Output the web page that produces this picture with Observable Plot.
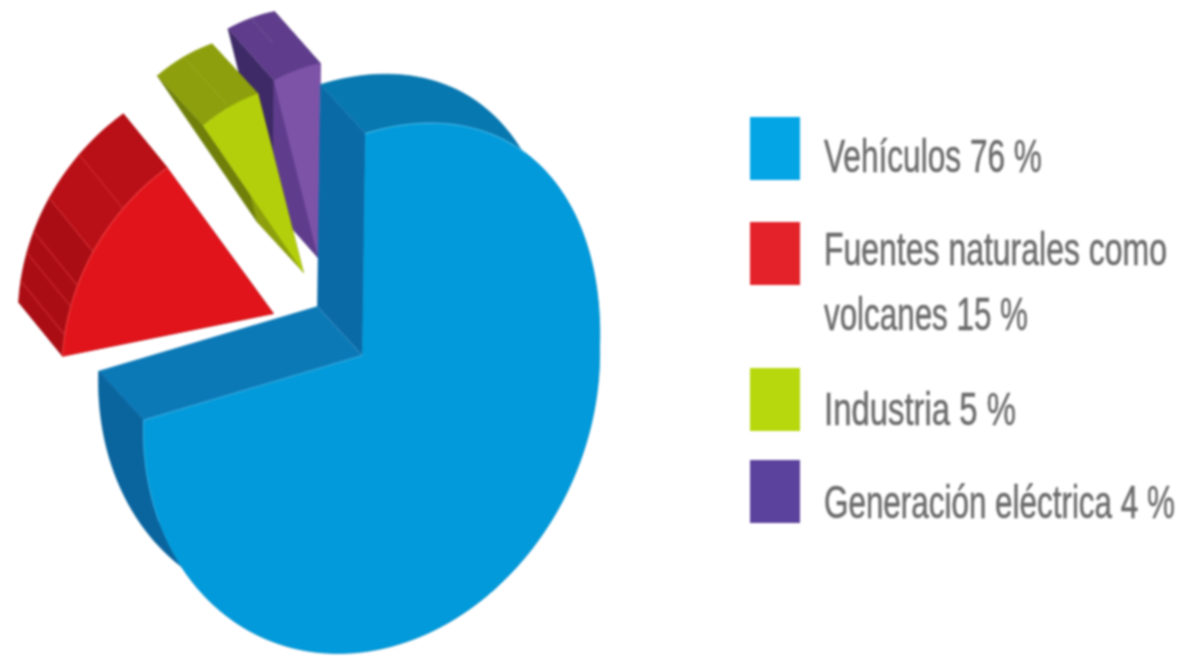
<!DOCTYPE html>
<html><head><meta charset="utf-8">
<script src="https://cdn.jsdelivr.net/npm/d3@7"></script>
<script src="https://cdn.jsdelivr.net/npm/@observablehq/plot@0.6"></script>
<style>
html,body{margin:0;padding:0;background:#fff;overflow:hidden}
#wrap{position:relative;width:1188px;height:659px}
#wrap svg{position:absolute;left:0;top:0;filter:blur(.8px)}
</style></head><body><div id="wrap"></div>
<script>
const categories = ["Vehículos", "Fuentes naturales como volcanes", "Industria", "Generación eléctrica"];
const shares = [76, 15, 5, 4];
const legendLines = [["Vehículos 76 %"], ["Fuentes naturales como", "volcanes 15 %"], ["Industria 5 %"], ["Generación eléctrica 4 %"]];

const W = 1188, H = 659;
// projected pie: centre, two half-axes of the tilted ellipse, off-centre apex, shoulder of the upper right quadrant
const C = [371, 391], A = [228, -45], B = [-6, -258], APEX = [362, 355], SHOULDER = [8, -15];
const rim = t => {
  const bump = t > 0 && t < Math.PI / 2 ? Math.sin(2 * t) : 0;
  return [C[0] + A[0] * Math.sin(t) + B[0] * Math.cos(t) + SHOULDER[0] * bump,
          C[1] + A[1] * Math.sin(t) + B[1] * Math.cos(t) + SHOULDER[1] * bump];
};
// how each slice is pulled out of the pie
const poses = [
  {rim0: [0, 0], rim1: [0, 0], apex: [0, 0], ex: [-45, -49], face: "#029ada", wall: "#0878b0", wall2: "#0a649e", side0: "#0a6aa6", side1: "#0c79b7"},
  {rim0: [-81, -64], rim1: [-77, -30], apex: [-89, -42], ex: [-44, -54], face: "#e1141b", wall: "#ab0d14", wall2: "#b90f16", side0: "#8e0c12", side1: "#a50e14"},
  {rim0: [-41, -72], rim1: [-51, -59], apex: [-59, -83], ex: [-46, -50], face: "#b3cf0c", wall: "#8d9f0c", wall2: "#8d9f0c", side0: "#6f7f0a", side1: "#8d9f0c"},
  {rim0: [-35, -72], rim1: [-45, -70], apex: [-44, -97], ex: [-46, -52], face: "#7d53a8", wall: "#5f3d8c", wall2: "#5f3d8c", side0: "#3e2a66", side1: "#5f3d8c"}
];

let acc = 0;
const slices = shares.map((v, i) => {
  const t0 = acc / 100 * 2 * Math.PI; acc += v; const t1 = acc / 100 * 2 * Math.PI;
  const p = poses[i];
  const n = Math.ceil(v * 2);
  const arc = d3.range(n + 1).map(k => {
    const f = k / n, r = rim(t0 + (t1 - t0) * f);
    return [r[0] + p.rim0[0] + (p.rim1[0] - p.rim0[0]) * f, r[1] + p.rim0[1] + (p.rim1[1] - p.rim0[1]) * f];
  });
  return {i, p, arc, apex: [APEX[0] + p.apex[0], APEX[1] + p.apex[1]]};
});
const ext = (q, p) => [q[0] + p.ex[0], q[1] + p.ex[1]];

const polys = [];
const add = (id, pts, color) => pts.forEach(q => polys.push({id, x: q[0], y: q[1], color}));
[3, 2, 1, 0].forEach(i => {
  const s = slices[i], p = s.p, a = s.arc, first = a[0], last = a[a.length - 1];
  const mid = Math.floor(a.length / 2);
  // the two radial walls, then the outer wall swept along the rim, then the face
  add(`s${i}-a`, [s.apex, first, ext(first, p), ext(s.apex, p)], p.side0);
  add(`s${i}-b`, [s.apex, last, ext(last, p), ext(s.apex, p)], p.side1);
  const partA = a.slice(0, mid + 1), partB = a.slice(mid);
  add(`w${i}-a`, [...partA, ...partA.map(q => ext(q, p)).reverse()], p.wall);
  add(`w${i}-b`, [...partB, ...partB.map(q => ext(q, p)).reverse()], p.wall2);
  add(`f${i}`, [s.apex, ...a], p.face);
});

// pale edge lines on the faces and ribs on the red wall
const edges = [];
const addEdge = (id, pts, color) => pts.forEach(q => edges.push({id, x: q[0], y: q[1], color}));
addEdge("e1", slices[1].arc, "#f2484a");
const red = slices[1];
[0.1, 0.22, 0.34, 0.5, 0.72].forEach((f, k) => {
  const q = red.arc[Math.round(f * (red.arc.length - 1))];
  addEdge("r" + k, [q, ext(q, red.p)], "#d33237");
});
addEdge("e0a", slices[0].arc.slice(0, 24), "#4dbbe8");
addEdge("e0b", [...slices[0].arc.slice(-14), slices[0].apex], "#38aee2");

const plot = Plot.plot({
  width: W, height: H, margin: 0,
  x: {domain: [0, W], axis: null},
  y: {domain: [H, 0], axis: null},
  color: {type: "identity"},
  marks: [
    Plot.line(polys, {x: "x", y: "y", z: "id", fill: "color", stroke: "color", strokeWidth: 0.6}),
    Plot.line(edges, {x: "x", y: "y", z: "id", stroke: "color", strokeWidth: 1.4, strokeOpacity: 0.7})
  ]
});
const wrap = document.getElementById("wrap");
wrap.appendChild(plot);

// legend, added beside the plot
const swatchColors = ["#04a5e5", "#e4222a", "#b6d80c", "#5b429c"];
const swatchTops = [117, 222, 368, 460];
const baselines = [[172], [265, 330], [425], [518]];
const lineWidths = [[218], [343, 204], [192], [351]];
const legend = d3.create("svg").attr("width", W).attr("height", H);
wrap.appendChild(legend.node());
legendLines.forEach((lines, i) => {
  legend.append("rect").attr("x", 750).attr("y", swatchTops[i]).attr("width", 50).attr("height", 63).attr("fill", swatchColors[i]);
  lines.forEach((t, k) => {
    const label = legend.append("text")
      .attr("font-family", "'Liberation Sans Narrow','Liberation Sans',sans-serif")
      .attr("font-size", 46).attr("fill", "#6a6a6a").attr("stroke", "#6a6a6a").attr("stroke-width", 0.5).text(t);
    const sx = lineWidths[i][k] / label.node().getComputedTextLength();
    label.attr("transform", `translate(824,${baselines[i][k]}) scale(${sx},1)`);
  });
});
</script></body></html>
